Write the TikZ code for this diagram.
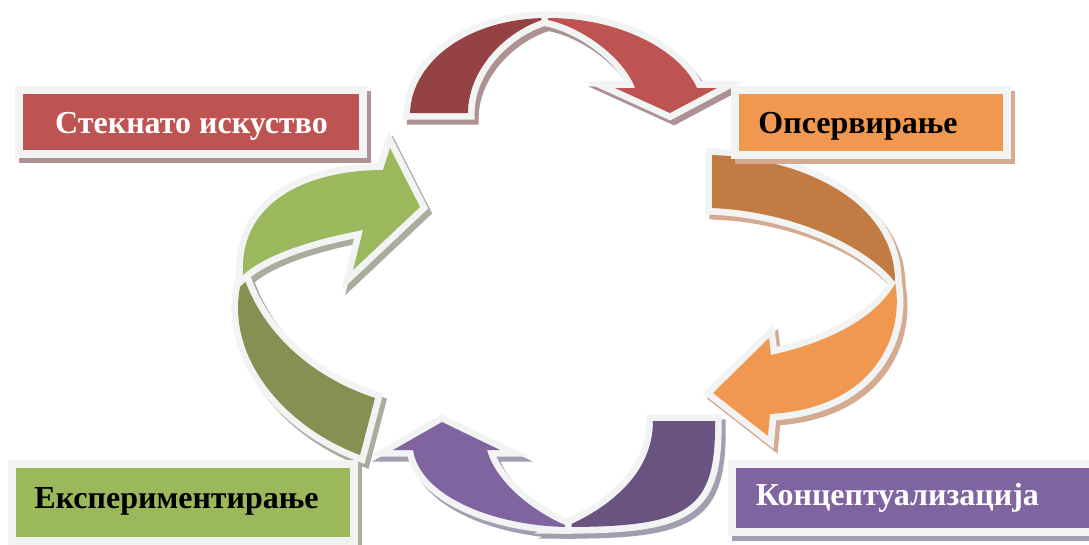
\documentclass[tikz,border=0pt]{standalone}
\usepackage{fontspec}
\setmainfont{Liberation Serif}
\usetikzlibrary{shadows}

% palette
\definecolor{rimc}{HTML}{F2F4F4}
\definecolor{redD}{HTML}{954245}
\definecolor{redL}{HTML}{BE5452}
\definecolor{redS}{HTML}{AE9193}
\definecolor{orgD}{HTML}{C27B42}
\definecolor{orgL}{HTML}{F0984F}
\definecolor{orgS}{HTML}{D4AA90}
\definecolor{grnD}{HTML}{849152}
\definecolor{grnL}{HTML}{9BB85D}
\definecolor{grnS}{HTML}{A8AD9E}
\definecolor{purD}{HTML}{6A5281}
\definecolor{purL}{HTML}{7F64A0}
\definecolor{purS}{HTML}{A29DB0}

% outlines of the eight ribbon halves (pixel units, y downwards)
\def\pRedBack{(410,113) .. controls (412,60) and (470,18) .. (548,18) .. controls (505,30) and (468,70) .. (468,113) -- cycle}
\def\pRedFront{(548,18) .. controls (620,18) and (680,50) .. (697,88) -- (717,88) -- (670,113) -- (615,88) -- (635,88) .. controls (625,60) and (585,28) .. (548,20) -- cycle}
\def\pOrgBack{(712,155) .. controls (800,158) and (895,200) .. (895,282) .. controls (870,250) and (800,212) .. (712,208) -- cycle}
\def\pOrgFront{(895,282) .. controls (905,335) and (875,408) .. (770,414) -- (768,436) -- (713,393) -- (769,338) -- (771,355) .. controls (830,342) and (875,318) .. (895,284) -- cycle}
\def\pPurBack{(715,421) .. controls (716,510) and (690,527) .. (565,527) .. controls (615,505) and (653,470) .. (653,421) -- cycle}
\def\pPurFront{(565,527) .. controls (490,525) and (420,495) .. (413,450) -- (393,450) -- (442,422) -- (500,450) -- (487,450) .. controls (495,480) and (530,510) .. (565,525) -- cycle}
\def\pGrnBack{(360,455) .. controls (280,425) and (220,350) .. (243,275) .. controls (265,340) and (320,380) .. (375,398) -- cycle}
\def\pGrnFront{(243,273) .. controls (240,200) and (310,170) .. (383,170) -- (390,148) -- (420,207) -- (353,270) -- (363,230) .. controls (310,240) and (265,255) .. (243,275) -- cycle}

\begin{document}
\begin{tikzpicture}[x=0.75pt,y=-0.75pt,
  rimfill/.style={fill=#1, preaction={draw=rimc, line width=10pt, line join=miter, miter limit=5.5}},
  dropsh/.style={fill=#1, draw=#1, line width=10pt, line join=miter, miter limit=5.5, shift={(4,5)}},
  stagebox/.style={draw=rimc, line width=6pt, fill=#1L, inner sep=0pt,
    drop shadow={shadow xshift=3pt, shadow yshift=-3.75pt, opacity=1, fill=#1S, draw=#1S, line width=6pt}},
  lbl/.style={font=\bfseries\fontsize{24}{28}\selectfont, anchor=base, inner sep=0pt}]
\useasboundingbox (0,0) rectangle (1089,544);
\fill[white] (0,0) rectangle (1089,544);

% red ribbon arrow, top
\path[dropsh=redS] \pRedBack;
\path[dropsh=redS] \pRedFront;
\path[rimfill=redD] \pRedBack;
\path[rimfill=redL] \pRedFront;

% orange ribbon arrow, right
\path[dropsh=orgS] \pOrgBack;
\path[dropsh=orgS] \pOrgFront;
\path[rimfill=orgD] \pOrgBack;
\path[rimfill=orgL] \pOrgFront;

% purple ribbon arrow, bottom
\path[dropsh=purS] \pPurBack;
\path[dropsh=purS] \pPurFront;
\path[rimfill=purD] \pPurBack;
\path[rimfill=purL] \pPurFront;

% green ribbon arrow, left
\path[dropsh=grnS] \pGrnBack;
\path[dropsh=grnS] \pGrnFront;
\path[rimfill=grnD] \pGrnBack;
\path[rimfill=grnL] \pGrnFront;

% stage boxes
\node[stagebox=red, minimum width=258pt, minimum height=48pt] (exp) at (191,122) {};
\node[stagebox=org, minimum width=204pt, minimum height=48.75pt] (obs) at (871,122.5) {};
\node[stagebox=grn, minimum width=256.5pt, minimum height=57.75pt] (act) at (183,502.5) {};
\node[stagebox=pur, minimum width=279pt, minimum height=51pt] (con) at (918,498) {};

% stage labels
\node[lbl, text=white] (expT) at (191.5,133) {Стекнато искуство};
\node[lbl, text=black] (obsT) at (858,133) {Опсервирање};
\node[lbl, text=black] (actT) at (176.5,508) {Експериментирање};
\node[lbl, text=white] (conT) at (897.5,505) {Концептуализација};
\end{tikzpicture}
\end{document}
